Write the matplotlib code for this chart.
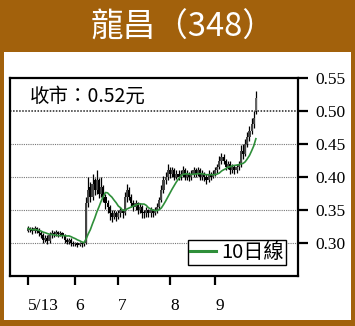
import matplotlib
matplotlib.use("Agg")
import matplotlib.pyplot as plt
from matplotlib.patches import Rectangle
from matplotlib.lines import Line2D
import numpy as np
import pandas as pd

plt.rcParams['font.family'] = ['Noto Sans CJK TC', 'DejaVu Sans']

# ---------------- data ----------------
title = "龍昌（348）"
close_label = "收市：0.52元"
ma_label = "10日線"

close = [
    0.322, 0.320, 0.318, 0.322, 0.318, 0.315,
    0.312, 0.305, 0.308, 0.303, 0.312, 0.315, 0.313,
    0.316, 0.313, 0.315, 0.312, 0.305, 0.302, 0.305, 0.300,
    0.298, 0.300, 0.297, 0.300, 0.298, 0.300,
    0.360, 0.380, 0.370, 0.390, 0.380, 0.395, 0.375, 0.385, 0.370, 0.360, 0.355,
    0.345, 0.340, 0.345, 0.340, 0.345, 0.350, 0.345,
    0.370, 0.380, 0.370, 0.360, 0.355, 0.360, 0.350, 0.355, 0.345, 0.345,
    0.350, 0.345, 0.350, 0.345, 0.350, 0.355,
    0.365, 0.380, 0.395, 0.400, 0.410, 0.405,
    0.410, 0.400, 0.405, 0.400, 0.405, 0.410, 0.400, 0.405, 0.400, 0.405, 0.410,
    0.405, 0.410, 0.400, 0.405, 0.400, 0.395, 0.405, 0.400, 0.405, 0.410, 0.415,
    0.425, 0.430, 0.425,
    0.415, 0.420, 0.410, 0.415, 0.410, 0.415, 0.420,
    0.440, 0.435, 0.450, 0.460, 0.470, 0.480, 0.490, 0.520,
]
open_ = [
    0.318, 0.322, 0.320, 0.318, 0.322, 0.318,
    0.315, 0.312, 0.305, 0.308, 0.303, 0.312, 0.315,
    0.313, 0.316, 0.313, 0.315, 0.312, 0.305, 0.302, 0.305,
    0.300, 0.298, 0.300, 0.297, 0.300, 0.298,
    0.300, 0.360, 0.385, 0.370, 0.395, 0.380, 0.395, 0.375, 0.385, 0.370, 0.360,
    0.355, 0.345, 0.340, 0.345, 0.340, 0.345, 0.350,
    0.345, 0.370, 0.380, 0.370, 0.360, 0.355, 0.360, 0.350, 0.355, 0.345,
    0.345, 0.350, 0.345, 0.350, 0.345, 0.350,
    0.355, 0.365, 0.380, 0.395, 0.400, 0.410,
    0.405, 0.410, 0.400, 0.405, 0.400, 0.405, 0.410, 0.400, 0.405, 0.400, 0.405,
    0.410, 0.405, 0.410, 0.400, 0.405, 0.400, 0.395, 0.405, 0.400, 0.405, 0.410,
    0.415, 0.425, 0.430,
    0.425, 0.415, 0.420, 0.410, 0.415, 0.410, 0.415,
    0.420, 0.440, 0.435, 0.450, 0.460, 0.470, 0.480, 0.500,
]
high = [
    0.326, 0.325, 0.324, 0.326, 0.325, 0.322,
    0.318, 0.315, 0.312, 0.312, 0.316, 0.320, 0.318,
    0.320, 0.318, 0.318, 0.317, 0.314, 0.308, 0.308, 0.307,
    0.303, 0.302, 0.302, 0.302, 0.302, 0.302,
    0.370, 0.400, 0.392, 0.405, 0.398, 0.410, 0.398, 0.400, 0.388, 0.375, 0.365,
    0.358, 0.350, 0.350, 0.348, 0.350, 0.355, 0.352,
    0.378, 0.390, 0.385, 0.375, 0.365, 0.365, 0.362, 0.360, 0.358, 0.350,
    0.355, 0.352, 0.355, 0.352, 0.355, 0.360,
    0.370, 0.388, 0.402, 0.408, 0.420, 0.415,
    0.415, 0.414, 0.410, 0.410, 0.410, 0.416, 0.414, 0.410, 0.408, 0.410, 0.415,
    0.414, 0.415, 0.414, 0.410, 0.408, 0.405, 0.410, 0.408, 0.410, 0.415, 0.420,
    0.432, 0.437, 0.435,
    0.428, 0.425, 0.424, 0.420, 0.418, 0.420, 0.425,
    0.448, 0.450, 0.458, 0.468, 0.478, 0.490, 0.500, 0.530,
]
low = [
    0.316, 0.317, 0.314, 0.315, 0.315, 0.311,
    0.308, 0.300, 0.302, 0.298, 0.300, 0.308, 0.309,
    0.310, 0.309, 0.310, 0.308, 0.300, 0.298, 0.299, 0.296,
    0.295, 0.295, 0.294, 0.295, 0.294, 0.295,
    0.298, 0.355, 0.362, 0.365, 0.372, 0.375, 0.368, 0.370, 0.362, 0.352, 0.345,
    0.335, 0.332, 0.336, 0.334, 0.336, 0.340, 0.338,
    0.342, 0.362, 0.365, 0.355, 0.348, 0.350, 0.344, 0.345, 0.338, 0.338,
    0.340, 0.339, 0.340, 0.340, 0.342, 0.346,
    0.352, 0.362, 0.376, 0.390, 0.396, 0.398,
    0.400, 0.396, 0.397, 0.395, 0.396, 0.400, 0.395, 0.396, 0.394, 0.396, 0.400,
    0.400, 0.402, 0.396, 0.396, 0.394, 0.390, 0.392, 0.395, 0.398, 0.402, 0.406,
    0.412, 0.420, 0.420,
    0.410, 0.412, 0.405, 0.406, 0.404, 0.406, 0.410,
    0.415, 0.428, 0.432, 0.445, 0.455, 0.465, 0.475, 0.495,
]
month_start_idx = [0, 22, 42, 66, 87]
month_labels = ["5/13", "6", "7", "8", "9"]
y_ticks = [0.30, 0.35, 0.40, 0.45, 0.50, 0.55]
y_ticklabels = ["0.30", "0.35", "0.40", "0.45", "0.50", "0.55"]
ma_window = 10

# ---------------- figure ----------------
W, H = 355, 326
fig = plt.figure(figsize=(W / 100, H / 100), dpi=100)
brown = '#A2610C'
fig.patch.set_facecolor(brown)

# white panel
fig.patches.append(Rectangle((4 / W, 1 - 320 / H), 347 / W, 268 / H,
                             transform=fig.transFigure, facecolor='white',
                             edgecolor='none', zorder=-5))

fig.text(183 / W, 1 - 28 / H, title, color='white', fontsize=23.5,
         ha='center', va='center', fontweight='light',
         family=['Noto Sans CJK TC', 'DejaVu Sans'])

ax = fig.add_axes([10 / W, 1 - 276 / H, 288 / W, 198 / H])
ax.set_zorder(2)
ax.set_facecolor('white')

x = np.arange(len(close))
o = np.array(open_)
c = np.array(close)
h = np.array(high)
l = np.array(low)

ax.set_xlim(-8.4, 125.6)
ax.set_ylim(0.25, 0.55)

# grid lines
for yv in [0.30, 0.35, 0.40, 0.45]:
    ax.axhline(yv, color='#777777', lw=0.8, ls=(0, (1, 1)), zorder=1)
ax.axhline(0.50, color='#222222', lw=1.1, ls=(0, (1, 1)), zorder=1)

# candles
ax.vlines(x, l, h, color='black', lw=0.9, zorder=2)
body_bottom = np.minimum(o, c)
body_h = np.maximum(np.abs(c - o), 0.002)
colors = ['#444444' if cc > oo else 'black' for oo, cc in zip(o, c)]
colors[-1] = '#666666'
ax.bar(x, body_h, bottom=body_bottom, width=1.0, color=colors,
       edgecolor='none', zorder=3)

# moving average
ma = pd.Series(c).rolling(ma_window, min_periods=1).mean()
green = '#2F8F3A'
ax.plot(x, ma, color=green, lw=1.2, zorder=4)

# spines
for s in ['left', 'right', 'top', 'bottom']:
    ax.spines[s].set_linewidth(1.6)
    ax.spines[s].set_color('black')

# y axis on right
ax.yaxis.tick_right()
ax.set_yticks(y_ticks)
ax.set_yticklabels(y_ticklabels, family=['Liberation Serif'], fontsize=12.5)
ax.tick_params(axis='y', direction='out', length=7.5, width=1.6, pad=5,
               left=False)

ax.set_xticks(month_start_idx)
ax.set_xticklabels(month_labels, family=['Liberation Serif'], fontsize=12.5,
                   ha='left')
ax.tick_params(axis='x', direction='out', length=6.5, width=1.6, pad=9)

ax.text(20 / 288, 1 - 18 / 198, close_label, transform=ax.transAxes,
        fontsize=14, ha='left', va='center', color='black')

handle = Line2D([], [], color=green, lw=2.2)
leg = ax.legend([handle], [ma_label], loc='lower right',
                bbox_to_anchor=(286 / W, 1 - 265 / H),
                bbox_transform=fig.transFigure, frameon=True, fancybox=False,
                framealpha=1, edgecolor='black', fontsize=14.5,
                handlelength=1.3, handletextpad=0.25, borderpad=0.1,
                borderaxespad=0)
leg.get_frame().set_linewidth(1.0)
leg.set_zorder(10)

fig.savefig('out.png', dpi=100, facecolor=brown)
